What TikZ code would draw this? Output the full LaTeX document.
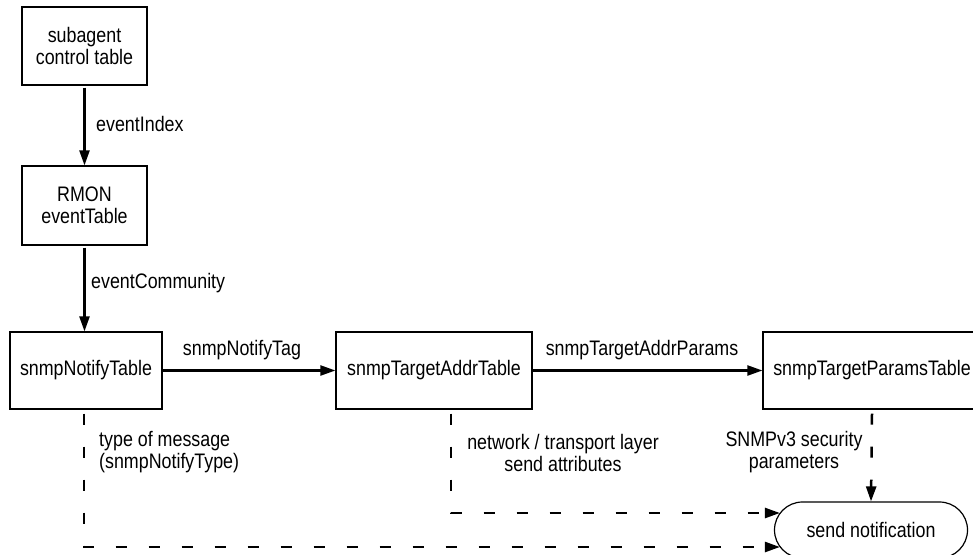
\documentclass[tikz,border=0pt]{standalone}
\usepackage{fontspec}
\setmainfont{Liberation Sans}[FakeStretch=0.85]
\usetikzlibrary{arrows.meta,shapes.misc,calc}
\begin{document}
\begin{tikzpicture}[x=1pt,y=-1pt,
  every node/.style={font=\fontsize{21}{22}\selectfont, inner sep=0pt},
  tbl/.style={draw, line width=1.2pt, minimum height=77pt, align=center},
  lbl/.style={align=center},
  solidarr/.style={line width=2.2pt, -{Triangle[length=15pt,width=10pt]}},
  plainline/.style={line width=2.2pt},
  dasharr/.style={line width=2.5pt, dash pattern=on 11pt off 22pt,
                  -{Triangle[length=15pt,width=10pt]}}]
  \useasboundingbox (0,0) rectangle (973,554);
  \clip (0,0) rectangle (973,554);

  % tables
  \node[tbl, minimum width=125pt, minimum height=78pt] (sub) at (84.5,46) {subagent\\control table};
  \node[tbl, minimum width=125pt, minimum height=79pt] (rmon) at (84.5,205.5) {RMON\\eventTable};
  \node[tbl, minimum width=152pt] (notify) at (86,370.5) {snmpNotifyTable};
  \node[tbl, minimum width=196pt] (addr) at (434,370.5) {snmpTargetAddrTable};
  \node[tbl, minimum width=218pt] (params) at (872,370.5) {snmpTargetParamsTable};
  \node[draw, line width=1.2pt, rounded rectangle, minimum width=193pt, minimum height=56pt] (note) at (871,530) {send notification};

  % solid references between tables
  \draw[solidarr] ([yshift=-2pt]sub.south) -- (rmon.north);
  \draw[solidarr] ([yshift=-2pt]rmon.south) -- (rmon.south |- notify.north);
  \draw[solidarr] (notify.east) -- (addr.west);
  \draw[solidarr] (addr.east) -- (params.west);

  % labels on the solid arrows
  \node[anchor=west] (lidx) at (96,124) {eventIndex};
  \node[anchor=west] (lcomm) at (91,283) {eventCommunity};
  \node (ltag) at (242,350) {snmpNotifyTag};
  \node (lpar) at (642,350) {snmpTargetAddrParams};

  % dashed inputs to the notification
  \coordinate (inlow) at ($(note.west)+(6,17)$);
  \coordinate (inhigh) at ($(note.west)+(6,-17)$);
  \draw[dasharr] ([xshift=-2pt,yshift=-4pt]notify.south) |- (inlow);
  \draw[dasharr] ([xshift=17pt,yshift=-4pt]addr.south) |- (inhigh);
  \draw[dasharr] ([yshift=-4pt]params.south) -- (note.north);

  % labels on the dashed lines
  \node[anchor=west, align=left] (ltype) at (99,452.5) {type of message\\(snmpNotifyType)};
  \node[lbl] (lnet) at (563,452.5) {network / transport layer\\send attributes};
  \node[lbl] (lsec) at (794,452.5) {SNMPv3 security\\parameters};
\end{tikzpicture}
\end{document}
